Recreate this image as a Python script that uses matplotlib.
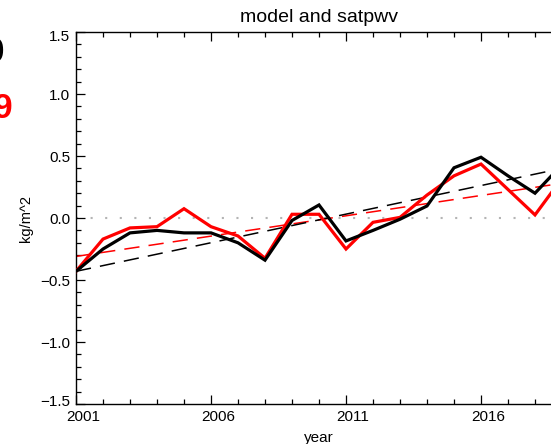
import matplotlib
matplotlib.use("Agg")
import matplotlib.pyplot as plt
import matplotlib.transforms as mtransforms
import numpy as np

# Annual anomalies (kg/m^2)
years = [2001, 2002, 2003, 2004, 2005, 2006, 2007, 2008, 2009, 2010,
         2011, 2012, 2013, 2014, 2015, 2016, 2017, 2018, 2019]
model = [-0.43, -0.25, -0.12, -0.10, -0.12, -0.12, -0.20, -0.34, -0.02, 0.105,
         -0.185, -0.10, -0.01, 0.097, 0.405, 0.49, 0.34, 0.20, 0.43]
satpwv = [-0.43, -0.17, -0.08, -0.07, 0.075, -0.07, -0.145, -0.325, 0.03, 0.03,
          -0.25, -0.035, 0.005, 0.185, 0.34, 0.435, 0.23, 0.025, 0.32]

# Linear trend lines (values at the ends of the period)
trend_years = [2001, 2019]
model_trend = [-0.43, 0.40]
satpwv_trend = [-0.31, 0.28]

# Correlation annotations
model_note = "0.90"
satpwv_note = "0.89"

xticks = [2001, 2006, 2011, 2016]
yticks = [-1.5, -1.0, -0.5, 0.0, 0.5, 1.0, 1.5]

plt.rcParams['font.family'] = ['Liberation Sans', 'DejaVu Sans']

W, H = 551, 444
fig = plt.figure(figsize=(W / 100, H / 100), dpi=100)
left, right, bottom, top = 76, 562, 404, 32
ax = fig.add_axes([left / W, 1 - bottom / H, (right - left) / W, (bottom - top) / H])

ax.axhline(0.0, color='#b4b4b4', lw=1.5, linestyle=(0, (1.0, 6.0)), zorder=1)

ax.plot(trend_years, satpwv_trend, color='red', lw=1.1, dashes=(10, 6), zorder=2)
ax.plot(trend_years, model_trend, color='black', lw=1.1, dashes=(10, 6), zorder=2)
ax.plot(years, satpwv, color='red', lw=2.3, zorder=3, solid_joinstyle='miter')
ax.plot(years, model, color='black', lw=2.3, zorder=4, solid_joinstyle='miter')

ax.set_xlim(2001, 2019)
ax.set_ylim(-1.5, 1.5)
ax.set_xticks(xticks)
ax.set_xticks(np.arange(2001, 2020, 1), minor=True)
ax.set_yticks(yticks)
ax.set_yticks(np.arange(-1.5, 1.51, 0.1), minor=True)
ax.set_xticklabels([str(x) for x in xticks])
ax.set_yticklabels(['\u2212%.1f' % abs(v) if v < 0 else '%.1f' % v for v in yticks])

ax.tick_params(which='both', direction='in', top=True, right=True,
               labelsize=11, width=0.9, colors='black')
ax.tick_params(which='major', length=6.5, pad=4)
ax.tick_params(which='minor', length=3.3)
for s in ax.spines.values():
    s.set_linewidth(1.0)

# shift x tick labels slightly right
dx = mtransforms.ScaledTranslation(7 / 100, 0, fig.dpi_scale_trans)
for lab in ax.get_xticklabels():
    lab.set_transform(lab.get_transform() + dx)
ylabs = ax.get_yticklabels()
ylabs[0].set_transform(ylabs[0].get_transform() + mtransforms.ScaledTranslation(0, 4 / 100, fig.dpi_scale_trans))
ylabs[-1].set_transform(ylabs[-1].get_transform() + mtransforms.ScaledTranslation(0, -3.5 / 100, fig.dpi_scale_trans))

ax.text(0.5, 1 + 14 / (bottom - top), 'model and satpwv', transform=ax.transAxes,
        ha='center', va='center', fontsize=14)
ax.set_xlabel('year', fontsize=11)
ax.xaxis.set_label_coords(0.5, -(438 - bottom) / (bottom - top))
ax.xaxis.label.set_va('center')
ax.set_ylabel('kg/m^2', fontsize=10.5)
ax.yaxis.set_label_coords(-(left - 26) / (right - left), 0.5)
ax.yaxis.label.set_va('center')

fig.text(5 / W, 1 - 62 / H, model_note, color='black', fontsize=25, fontweight='bold',
         ha='right', va='baseline')
fig.text(13 / W, 1 - 118 / H, satpwv_note, color='red', fontsize=25, fontweight='bold',
         ha='right', va='baseline')

fig.savefig('out.png', dpi=100)
